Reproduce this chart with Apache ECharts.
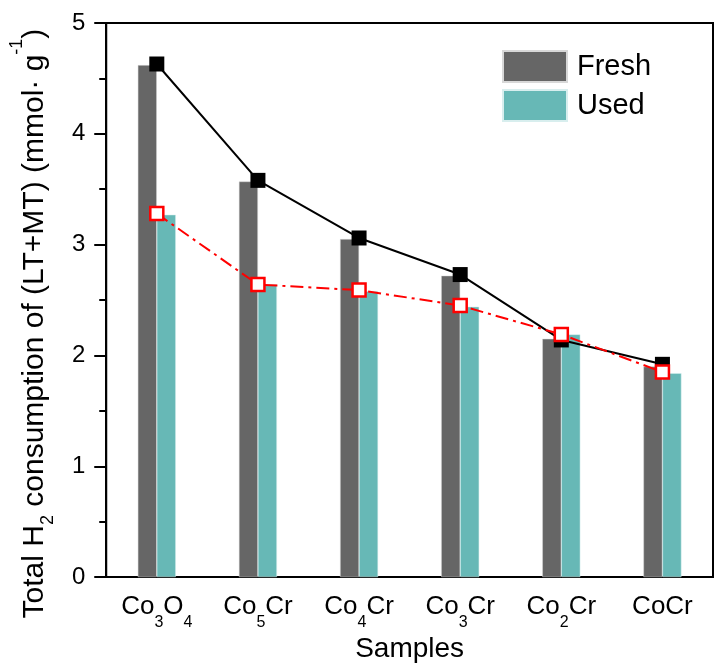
<!DOCTYPE html>
<html>
<head>
<meta charset="utf-8">
<script src="https://cdn.jsdelivr.net/npm/echarts@6/dist/echarts.min.js"></script>
<style>
  html, body { margin: 0; padding: 0; background: #fff; }
  #chart { width: 716px; height: 668px; }
</style>
</head>
<body>
<div id="chart"></div>
<script>
var categories = ['Co3O4', 'Co5Cr', 'Co4Cr', 'Co3Cr', 'Co2Cr', 'CoCr']
var freshBar = [4.62, 3.57, 3.05, 2.72, 2.15, 1.90]
var usedBar = [3.27, 2.64, 2.58, 2.44, 2.19, 1.84]
var freshLine = [4.63, 3.58, 3.06, 2.73, 2.14, 1.92]
var usedLine = [3.28, 2.64, 2.59, 2.45, 2.19, 1.85]
var yTicks = [0, 1, 2, 3, 4, 5]

var font = 'Liberation Sans'

// 'Co3O4' -> 'Co' + sub 3 + 'O' + sub 4
function subLabel(v) {
  return v.replace(/(\d)/g, '|$1|').split('|').filter(function (s) { return s !== '' }).map(function (s) {
    return /^\d$/.test(s) ? '{s|' + s + '}' : '{b|' + s + '}'
  }).join('')
}

var myChart = echarts.init(document.getElementById('chart'))

var option = {
  backgroundColor: '#fff',
  animation: false,
  grid: {
    left: 100,
    right: 3,
    top: 23,
    bottom: 90,
    show: true,
    borderColor: '#000',
    borderWidth: 2,
    backgroundColor: 'transparent'
  },
  legend: {
    data: ['Fresh', 'Used'],
    orient: 'vertical',
    left: 502,
    top: 50,
    padding: 0,
    itemWidth: 64,
    itemHeight: 31,
    itemGap: 6,
    icon: 'rect',
    textStyle: { fontFamily: font, fontSize: 29, color: '#000', padding: [0, 0, 0, 5] }
  },
  xAxis: {
    type: 'category',
    data: categories,
    name: 'Samples',
    nameLocation: 'middle',
    nameGap: 57,
    nameTextStyle: { fontFamily: font, fontSize: 28, color: '#000' },
    axisLine: { lineStyle: { color: '#000', width: 2 } },
    axisTick: { alignWithLabel: true, length: 12, lineStyle: { color: '#000', width: 2 } },
    axisLabel: {
      margin: 6,
      interval: 0,
      formatter: subLabel,
      rich: {
        b: { fontFamily: font, fontSize: 26, color: '#000', lineHeight: 47 },
        s: { fontFamily: font, fontSize: 16, color: '#000', lineHeight: 16, padding: [31, 0, 0, 0] }
      }
    },
    splitLine: { show: false }
  },
  yAxis: {
    type: 'value',
    min: yTicks[0],
    max: yTicks[yTicks.length - 1],
    interval: 1,
    name: '{b|Total H}{sub|2}{b| consumption of (LT+MT) (mmol· g}{sup|-1}{b|)}',
    nameLocation: 'middle',
    nameGap: 56,
    nameRotate: 90,
    nameTextStyle: {
      padding: [0, 47, 0, 0],
      rich: {
        b: { fontFamily: font, fontSize: 30, color: '#000', lineHeight: 30 },
        sub: { fontFamily: font, fontSize: 18, color: '#000', lineHeight: 18, padding: [27, 0, 0, 0] },
        sup: { fontFamily: font, fontSize: 18, color: '#000', lineHeight: 18, padding: [0, 0, 35, 0] }
      }
    },
    axisLine: { show: true, lineStyle: { color: '#000', width: 2 } },
    axisTick: { show: true, length: 12, lineStyle: { color: '#000', width: 2 } },
    minorTick: { show: true, splitNumber: 2, length: 7, lineStyle: { color: '#000', width: 2 } },
    axisLabel: { fontFamily: font, fontSize: 24, color: '#000', margin: 21 },
    splitLine: { show: false }
  },
  series: [
    {
      name: 'Fresh',
      type: 'bar',
      data: freshBar,
      barWidth: 19,
      barGap: '0%',
      itemStyle: { color: '#666666', borderColor: '#d8d8d8', borderWidth: 0.5 }
    },
    {
      name: 'Used',
      type: 'bar',
      data: usedBar,
      barWidth: 19,
      barGap: '0%',
      itemStyle: { color: '#67b8b6', borderColor: '#d8eeee', borderWidth: 0.5 }
    },
    {
      name: 'Fresh line',
      type: 'line',
      data: freshLine,
      symbol: 'rect',
      symbolSize: 15,
      itemStyle: { color: '#000' },
      lineStyle: { color: '#000', width: 2 },
      z: 3
    },
    {
      name: 'Used line',
      type: 'line',
      data: usedLine,
      symbol: 'rect',
      symbolSize: 13,
      itemStyle: { color: '#fff', borderColor: '#ff0000', borderWidth: 2.5 },
      lineStyle: { color: '#ff0000', width: 2, type: [13, 5, 3, 5] },
      z: 4
    }
  ]
}

myChart.setOption(option)
</script>
</body>
</html>
